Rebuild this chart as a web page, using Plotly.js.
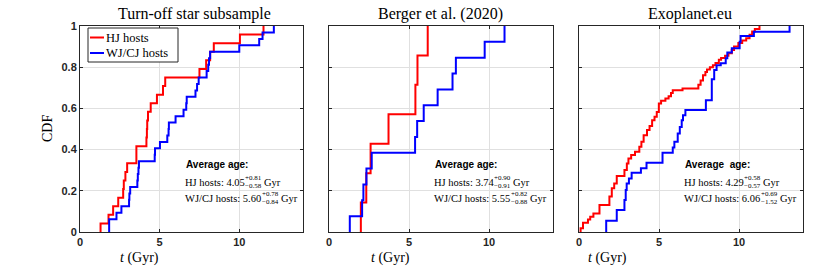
<!DOCTYPE html>
<html>
<head>
<meta charset="utf-8">
<script src="https://cdn.plot.ly/plotly-3.0.1.min.js"></script>
<style>html,body{margin:0;padding:0;background:#fff;}#chart{width:830px;height:269px;}</style>
</head>
<body>
<div id="chart"></div>
<script>
// ---------------- DATA ----------------
const panelTitles = ["Turn-off star subsample", "Berger et al. (2020)", "Exoplanet.eu"];
const seriesNames = ["HJ hosts", "WJ/CJ hosts"];
const xTickVals = [0, 5, 10];
const yTickVals = [0, 0.2, 0.4, 0.6, 0.8, 1];
const yTickText = ["0", "0.2", "0.4", "0.6", "0.8", "1"];

// Panel 1: Turn-off star subsample (sorted ages, Gyr)
const toHjAges = [1.29, 1.79, 2.08, 2.40, 2.71, 2.75, 2.85, 2.96, 3.54, 3.54, 4.17, 4.20,
                  4.22, 4.27, 4.44, 4.83, 5.21, 5.35, 7.50, 7.92, 8.17, 8.40, 10.04, 11.52];
const toWjAges = [1.83, 1.83, 2.29, 2.60, 3.08, 3.10, 3.15, 3.60, 3.63, 3.67, 3.70, 4.69,
                  4.71, 5.02, 5.48, 5.56, 5.58, 6.00, 6.50, 6.67, 6.70, 7.25, 7.35, 7.45,
                  7.95, 8.05, 8.10, 8.17, 10.00, 11.25, 11.46, 12.17];

// Panel 2: Berger et al. (2020)
const bgHjAges = [1.99, 2.33, 2.60, 3.72, 5.40, 5.53, 6.17];
const bgWjAges = [1.30, 2.07, 2.15, 2.34, 2.67, 5.38, 5.51, 5.92, 6.79, 7.72, 7.93, 9.73, 10.97];

// Panel 3: Exoplanet.eu (step ages and CDF level after each step)
const exHjT   = [0.10, 0.25, 0.56, 0.70, 0.90, 1.28, 1.90, 2.05, 2.20, 2.36, 2.84, 2.99, 3.09,
                 3.26, 3.50, 3.77, 3.90, 4.04, 4.25, 4.41, 4.57, 4.72, 4.86, 4.99, 5.13, 5.40,
                 5.60, 5.75, 5.86, 6.47, 7.46, 7.60, 7.75, 7.90, 8.00, 8.18, 8.37, 8.53, 8.74,
                 8.88, 9.13, 9.34, 9.55, 9.69, 9.96, 10.20, 10.45, 10.66, 10.82, 10.99, 11.28];
const exHjCdf = [0.018, 0.045, 0.061, 0.074, 0.090, 0.131, 0.172, 0.212, 0.236, 0.272, 0.301,
                 0.333, 0.357, 0.374, 0.390, 0.414, 0.438, 0.470, 0.495, 0.514, 0.543, 0.559,
                 0.583, 0.624, 0.637, 0.648, 0.659, 0.675, 0.688, 0.696, 0.715, 0.736, 0.761,
                 0.777, 0.789, 0.800, 0.810, 0.820, 0.836, 0.845, 0.855, 0.868, 0.884, 0.900,
                 0.917, 0.930, 0.941, 0.957, 0.973, 0.985, 1.000];
const exWjT   = [1.70, 2.36, 2.84, 2.92, 2.98, 3.12, 3.29, 3.87, 4.22, 5.22, 5.86, 5.96, 6.17,
                 6.30, 6.42, 6.50, 6.65, 7.93, 8.30, 8.45, 8.60, 8.86, 9.17, 9.27, 9.55, 10.04,
                 10.10, 10.93, 13.16];
const exWjCdf = [0.055, 0.107, 0.155, 0.204, 0.236, 0.260, 0.288, 0.309, 0.336, 0.385, 0.410,
                 0.438, 0.478, 0.510, 0.543, 0.567, 0.592, 0.640, 0.741, 0.786, 0.810, 0.819,
                 0.843, 0.871, 0.892, 0.924, 0.952, 0.972, 1.000];

// Average ages: [value, plus, minus]
const avgHj = [["4.05", "+0.81", "\u22120.58"], ["3.74", "+0.90", "\u22120.91"], ["4.29", "+0.58", "\u22120.57"]];
const avgWj = [["5.60", "+0.78", "\u22120.84"], ["5.55", "+0.82", "\u22120.88"], ["6.06", "+0.69", "\u22121.52"]];
const avgHeading = ["Average age:", "Average age:", "Average\u00a0 age:"];

// ---------------- BUILD ----------------
const W = 830, H = 269;
const RED = "#ff0000", BLUE = "#0000ff", AX = "#262626";
const SERIF = "Liberation Serif", SANS = "Liberation Sans";
const px = v => v / W;
const py = v => 1 - v / H;

function ecdfStairs(ages) {
  const n = ages.length, x = [ages[0]], y = [0];
  ages.forEach((a, i) => { x.push(a); y.push((i + 1) / n); });
  return {x, y};
}
function levelStairs(t, f) {
  return {x: [t[0]].concat(t), y: [0].concat(f)};
}

const seriesData = [
  [ecdfStairs(toHjAges), ecdfStairs(toWjAges)],
  [ecdfStairs(bgHjAges), ecdfStairs(bgWjAges)],
  [levelStairs(exHjT, exHjCdf), levelStairs(exWjT, exWjCdf)]
];

const axLeft = [80, 329, 579], axRight = [303, 553, 803];
const axTop = 26, axBottom = 232;

const traces = [];
seriesData.forEach((pair, p) => {
  pair.forEach((s, k) => {
    traces.push({
      type: "scatter", mode: "lines", x: s.x, y: s.y,
      xaxis: p === 0 ? "x" : "x" + (p + 1), yaxis: p === 0 ? "y" : "y" + (p + 1),
      name: seriesNames[k], showlegend: false,
      line: {color: k === 0 ? RED : BLUE, width: 2, shape: "hv"},
      hoverinfo: "x+y"
    });
  });
});

const layout = {
  width: W, height: H, autosize: false,
  margin: {l: 0, r: 0, t: 0, b: 0},
  paper_bgcolor: "#fff", plot_bgcolor: "#fff",
  showlegend: false, annotations: [], shapes: []
};

const tickFont = {family: SANS, size: 11, color: AX, weight: "bold"};
for (let p = 0; p < 3; p++) {
  const sfx = p === 0 ? "" : String(p + 1);
  layout["xaxis" + sfx] = {
    domain: [px(axLeft[p]), px(axRight[p])], anchor: "y" + sfx,
    range: [0, 14], tickvals: xTickVals, ticktext: xTickVals.map(String),
    ticks: "inside", ticklen: 3, tickcolor: AX, tickwidth: 1,
    showline: true, linecolor: AX, linewidth: 1, mirror: "ticks",
    showgrid: true, gridcolor: "#e0e0e0", gridwidth: 1, zeroline: false,
    tickfont: tickFont, fixedrange: true
  };
  layout["yaxis" + sfx] = {
    domain: [py(axBottom), py(axTop)], anchor: "x" + sfx,
    range: [0, 1], tickvals: yTickVals, ticktext: yTickText,
    showticklabels: p === 0,
    ticks: "inside", ticklen: 3, tickcolor: AX, tickwidth: 1,
    showline: true, linecolor: AX, linewidth: 1, mirror: "ticks",
    showgrid: true, gridcolor: "#e0e0e0", gridwidth: 1, zeroline: false,
    tickfont: tickFont, fixedrange: true
  };
}

function ann(text, x, y, opts) {
  return Object.assign({text: text, x: px(x), y: py(y), xref: "paper", yref: "paper",
    showarrow: false, xanchor: "center", yanchor: "middle", borderpad: 0}, opts || {});
}

// Titles
const titleCx = [194, 440, 690];
panelTitles.forEach((t, p) => {
  layout.annotations.push(ann(t, titleCx[p], 14, {font: {family: SERIF, size: 16, color: "#000"}}));
});
// x titles
const xtitleCx = [139, 390, 607];
xtitleCx.forEach(cx => {
  layout.annotations.push(ann("<i>t</i> (Gyr)", cx, 258, {font: {family: SERIF, size: 14, color: "#000"}}));
});
// y title
layout.annotations.push(ann("CDF", 47, 129, {textangle: -90, font: {family: SERIF, size: 14, color: "#000"}}));

// Manual legend in panel 1
layout.shapes.push({type: "rect", xref: "paper", yref: "paper",
  x0: px(88), x1: px(178), y0: py(62), y1: py(28),
  line: {color: AX, width: 1}, fillcolor: "#fff", layer: "above"});
[[37.5, RED], [53, BLUE]].forEach(([yy, c], k) => {
  layout.shapes.push({type: "line", xref: "paper", yref: "paper",
    x0: px(90), x1: px(104), y0: py(yy), y1: py(yy), line: {color: c, width: 2}});
  layout.annotations.push(ann(seriesNames[k], 105, yy, {xanchor: "left",
    font: {family: SERIF, size: 12.5, color: "#000"}}));
});

// Average age texts
const cvs = document.createElement("canvas").getContext("2d");
function tw(text, size, family) { cvs.font = size + "px '" + family + "'"; return cvs.measureText(text).width; }
const mainSize = 10.5, scrSize = 7;
function ageLine(label, vals, x0, yc) {
  const main = label + " " + vals[0];
  const wMain = tw(main, mainSize, SERIF);
  const wScr = Math.max(tw(vals[1], scrSize, SERIF), tw(vals[2], scrSize, SERIF));
  layout.annotations.push(ann(main, x0, yc, {xanchor: "left", font: {family: SERIF, size: mainSize, color: "#000"}}));
  layout.annotations.push(ann(vals[1], x0 + wMain + 0.5, yc - 4, {xanchor: "left", font: {family: SERIF, size: scrSize, color: "#000"}}));
  layout.annotations.push(ann(vals[2], x0 + wMain + 0.5, yc + 4, {xanchor: "left", font: {family: SERIF, size: scrSize, color: "#000"}}));
  layout.annotations.push(ann("Gyr", x0 + wMain + wScr + 3.5, yc, {xanchor: "left", font: {family: SERIF, size: mainSize, color: "#000"}}));
}
for (let p = 0; p < 3; p++) {
  const x0 = axLeft[p] + 104;
  layout.annotations.push(ann(avgHeading[p], x0 + 1, 164, {xanchor: "left",
    font: {family: SANS, size: 10, color: "#000", weight: "bold"}}));
  ageLine("HJ hosts:", avgHj[p], x0, 182);
  ageLine("WJ/CJ hosts:", avgWj[p], x0, 198);
}

Plotly.newPlot("chart", traces, layout, {displayModeBar: false, staticPlot: true});
</script>
</body>
</html>
